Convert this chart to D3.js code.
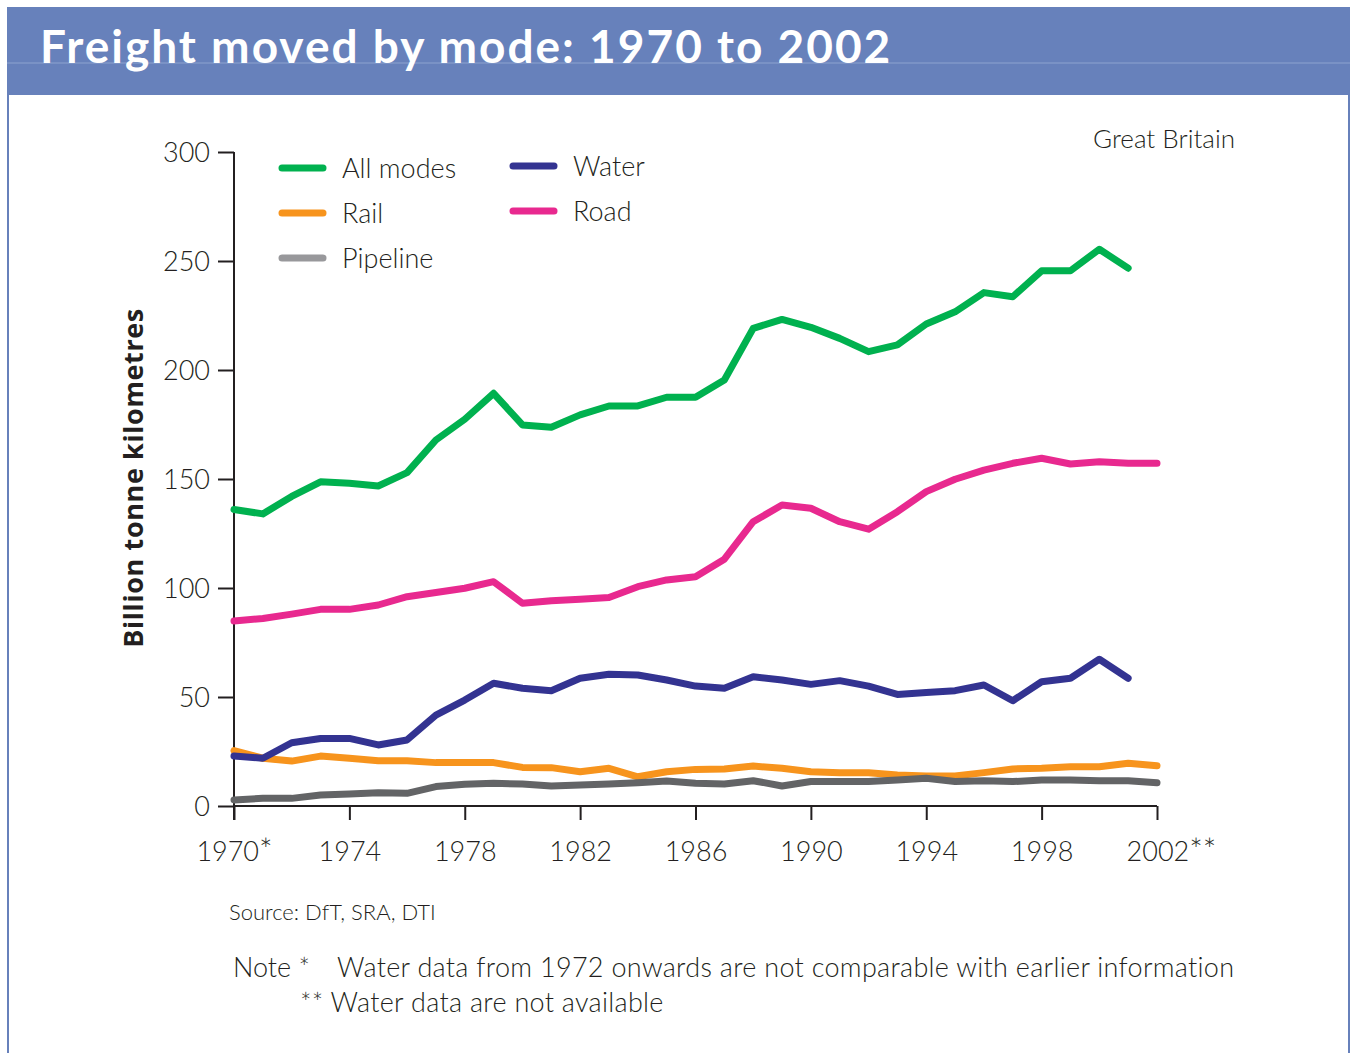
<!DOCTYPE html>
<html>
<head>
<meta charset="utf-8">
<script src="https://cdn.jsdelivr.net/npm/d3@7"></script>
<style>
  body { margin: 0; background: #fff; }
  svg text { font-family: Lato, "Open Sans", sans-serif; fill: #231f20; }
  .lbl { font-weight: 300; }
</style>
</head>
<body>
<div id="chart"></div>
<script>
// years 1970..2002
const years = d3.range(1970, 2003);
const allModes = [136, 134, 142, 148.7, 148, 146.8, 152.9, 167.9, 177.4, 189.3, 174.8, 173.7, 179.4, 183.5, 183.5, 187.5, 187.5,
  195.4, 219.1, 223.2, 219.6, 214.5, 208.4, 211.5, 221.1, 226.7, 235.5, 233.6, 245.5, 245.5, 255.4, 246.7];
const road = [84.9, 86, 88, 90.2, 90.2, 92.2, 96, 97.9, 99.9, 102.9, 93, 94.2, 94.8, 95.6, 100.6, 103.7, 105.2,
  113.2, 130.4, 138.1, 136.6, 130.4, 127, 135, 144.2, 149.9, 154.1, 157.2, 159.5, 156.9, 157.9, 157.2, 157.2];
const water = [22.9, 21.9, 29, 31, 31, 28, 30.3, 41.7, 48.6, 56.3, 54, 52.9, 58.6, 60.4, 60.1, 57.8, 55,
  54, 59.3, 57.8, 55.8, 57.5, 55, 51.2, 52.1, 52.9, 55.5, 48.3, 57, 58.6, 67.3, 58.6];
const rail = [25.4, 21.9, 20.6, 22.9, 21.9, 20.8, 20.8, 19.9, 19.9, 19.9, 17.7, 17.6, 15.7, 17.3, 13.4, 15.7, 16.8,
  17, 18.3, 17.3, 15.7, 15.3, 15.3, 14.2, 13.8, 13.8, 15.3, 17, 17.3, 18, 18, 19.6, 18.5];
const pipeline = [2.8, 3.5, 3.5, 5, 5.5, 6.1, 5.8, 8.9, 10, 10.4, 10.1, 9.2, 9.6, 10.1, 10.7, 11.5, 10.4,
  10.1, 11.6, 9.2, 11.2, 11.2, 11.2, 11.9, 12.7, 11.2, 11.6, 11.2, 11.9, 11.9, 11.6, 11.6, 10.7];

const xTicks = [1970, 1974, 1978, 1982, 1986, 1990, 1994, 1998, 2002];
const xTickSuffix = {1970: '*', 2002: '**'};
const yTicks = [0, 50, 100, 150, 200, 250, 300];

const series = [
  {name: 'Rail', values: rail, color: '#f7941d', legend: '#f7941d'},
  {name: 'Pipeline', values: pipeline, color: '#636466', legend: '#98989b'},
  {name: 'Water', values: water, color: '#333391', legend: '#333391'},
  {name: 'Road', values: road, color: '#e8298f', legend: '#e8298f'},
  {name: 'All modes', values: allModes, color: '#00b14f', legend: '#00b14f'}
];
const legendItems = [
  {name: 'All modes', col: 0, row: 0},
  {name: 'Rail', col: 0, row: 1},
  {name: 'Pipeline', col: 0, row: 2},
  {name: 'Water', col: 1, row: 0},
  {name: 'Road', col: 1, row: 1}
];

const W = 1354, H = 1053;
const svg = d3.select('#chart').append('svg')
    .attr('width', W)
    .attr('height', H);

// frame + header band
svg.append('rect')
    .attr('x', 8).attr('y', 8)
    .attr('width', 1341).attr('height', H)
    .attr('fill', '#fff')
    .attr('stroke', '#6781bb')
    .attr('stroke-width', 2);
svg.append('rect')
    .attr('x', 7).attr('y', 7)
    .attr('width', 1343).attr('height', 88)
    .attr('fill', '#6781bb');
svg.append('line')
    .attr('x1', 7).attr('x2', 1350)
    .attr('y1', 63).attr('y2', 63)
    .attr('stroke', '#8ea3cf')
    .attr('stroke-width', 1);
svg.append('text')
    .attr('x', 40).attr('y', 63)
    .style('font-size', '46px')
    .style('font-weight', 700)
    .style('letter-spacing', '2px')
    .style('fill', '#fff')
    .text('Freight moved by mode: 1970 to 2002');

const x = d3.scaleLinear().domain([1970, 2002]).range([234, 1157]);
const y = d3.scaleLinear().domain([0, 300]).range([806, 152]);

// axes
const yAxis = svg.append('g')
    .attr('transform', 'translate(234,0)')
    .call(d3.axisLeft(y).tickValues(yTicks).tickSize(16).tickPadding(8));
const xAxis = svg.append('g')
    .attr('transform', 'translate(0,806)')
    .call(d3.axisBottom(x).tickValues(xTicks).tickSize(14).tickFormat(d3.format('d')).tickPadding(17));

[yAxis, xAxis].forEach(a => {
  a.select('.domain').attr('stroke', '#231f20').attr('stroke-width', 2);
  a.selectAll('.tick line').attr('stroke', '#231f20').attr('stroke-width', 2);
  a.selectAll('.tick text')
      .attr('class', 'lbl')
      .style('font-size', '27px')
      .style('font-family', 'Lato, "Open Sans", sans-serif')
      .attr('fill', '#231f20');
});
yAxis.selectAll('.tick text').attr('dy', '0.36em');
xAxis.select('.domain').attr('d', 'M234,0H1157');
yAxis.select('.domain').attr('d', 'M0,' + y(300) + 'V' + (y(0) + 14));
xAxis.selectAll('.tick text')
    .attr('dy', '0.9em')
    .each(function(d) {
      const s = xTickSuffix[d];
      if (s) {
        d3.select(this).append('tspan').style('font-size', '32px').text(s);
        if (s.length > 1) d3.select(this).attr('x', 14);
      }
    });

// y axis title
svg.append('text')
    .attr('transform', 'translate(143,478) rotate(-90)')
    .attr('text-anchor', 'middle')
    .style('font-family', '"Open Sans", "DejaVu Sans", sans-serif')
    .style('font-size', '27px')
    .style('font-weight', 700)
    .style('letter-spacing', '0.6px')
    .text('Billion tonne kilometres');

// lines
const line = d3.line()
    .x((d, i) => x(years[i]))
    .y(d => y(d));

svg.append('g')
  .selectAll('path')
  .data(series)
  .join('path')
    .attr('d', d => line(d.values))
    .attr('fill', 'none')
    .attr('stroke', d => d.color)
    .attr('stroke-width', 7)
    .attr('stroke-linejoin', 'round')
    .attr('stroke-linecap', 'round');

// legend
const colorOf = d3.rollup(series, v => v[0].legend, d => d.name);
const lg = svg.append('g')
  .selectAll('g')
  .data(legendItems)
  .join('g')
    .attr('transform', d => `translate(${d.col ? 513 : 282},${(d.col ? 166 : 168) + d.row * 45})`);
lg.append('line')
    .attr('x1', 0).attr('x2', 41)
    .attr('stroke', d => colorOf.get(d.name))
    .attr('stroke-width', 7)
    .attr('stroke-linecap', 'round');
lg.append('text')
    .attr('class', 'lbl')
    .attr('x', 60)
    .attr('dy', '0.36em')
    .style('font-size', '27px')
    .text(d => d.name);

svg.append('text')
    .attr('class', 'lbl')
    .attr('x', 1235).attr('y', 148)
    .attr('text-anchor', 'end')
    .style('font-size', '26px')
    .text('Great Britain');

svg.append('text')
    .attr('class', 'lbl')
    .attr('x', 229).attr('y', 920)
    .style('font-size', '22px')
    .text('Source: DfT, SRA, DTI');

svg.append('text')
    .attr('class', 'lbl')
    .attr('x', 233).attr('y', 977)
    .style('font-size', '27px')
    .text('Note *');
svg.append('text')
    .attr('class', 'lbl')
    .attr('x', 337).attr('y', 977)
    .style('font-size', '27px')
    .style('letter-spacing', '0.3px')
    .text('Water data from 1972 onwards are not comparable with earlier information');
svg.append('text')
    .attr('class', 'lbl')
    .attr('x', 300).attr('y', 1012)
    .style('font-size', '27px')
    .style('letter-spacing', '0.3px')
    .text('** Water data are not available');
</script>
</body>
</html>
